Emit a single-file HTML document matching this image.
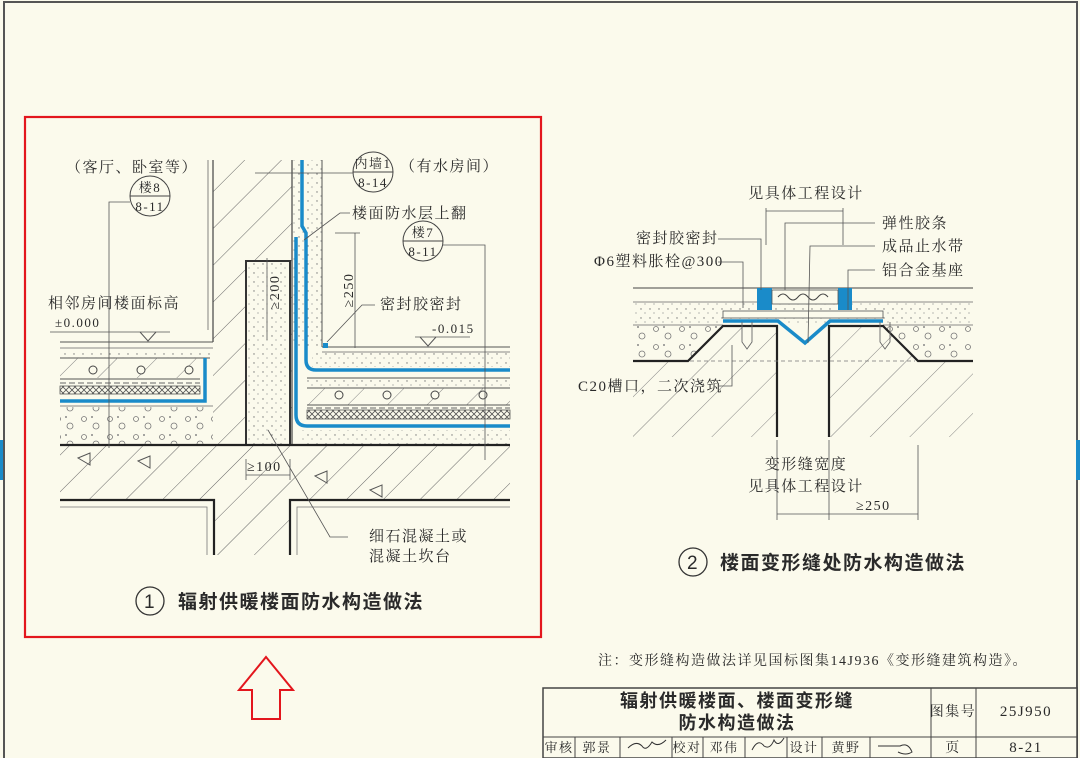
<!DOCTYPE html>
<html><head><meta charset="utf-8"><style>
html,body{margin:0;padding:0;background:#fbfaec;}
svg{display:block}
text{font-family:"Liberation Serif","Noto Serif CJK SC","Noto Sans CJK SC",serif;fill:#2a2a2a;letter-spacing:1.5px;}
.s{font-family:"Liberation Sans","Noto Sans CJK SC",sans-serif;}
</style></head><body>
<svg width="1080" height="758" viewBox="0 0 1080 758" xmlns="http://www.w3.org/2000/svg">
<defs>
<pattern id="h" width="26" height="26" patternUnits="userSpaceOnUse" patternTransform="rotate(45)">
<line x1="0" y1="0" x2="0" y2="26" stroke="#666" stroke-width="1"/></pattern>
<pattern id="hs" width="28" height="28" patternUnits="userSpaceOnUse" patternTransform="rotate(45)">
<line x1="0" y1="0" x2="0" y2="28" stroke="#777" stroke-width="0.9"/></pattern>
<pattern id="dot" width="9" height="9" patternUnits="userSpaceOnUse">
<circle cx="2" cy="3" r="0.7" fill="#777"/><circle cx="6" cy="7" r="0.6" fill="#888"/></pattern>
<pattern id="x" width="6" height="6" patternUnits="userSpaceOnUse">
<path d="M0 0L6 6M6 0L0 6" stroke="#555" stroke-width="0.8"/></pattern>
<pattern id="bub" width="26" height="18" patternUnits="userSpaceOnUse">
<circle cx="6" cy="5" r="2.5" fill="none" stroke="#777" stroke-width="0.8"/><circle cx="18" cy="12" r="3" fill="none" stroke="#777" stroke-width="0.8"/><circle cx="14" cy="3" r="1" fill="#888"/></pattern>
</defs>
<rect width="1080" height="758" fill="#fbfaec"/>
<polyline points="4,758 4,2 1077,2 1077,758" fill="none" stroke="#555" stroke-width="2"/>
<rect x="0" y="440" width="3" height="40" fill="#1a8bc9"/>
<rect x="1076" y="440" width="4" height="40" fill="#1a8bc9"/>

<!-- ============ LEFT DRAWING ============ -->
<rect x="213" y="160" width="79" height="285" fill="url(#h)"/>
<line x1="213" y1="160" x2="213" y2="342" stroke="#444" stroke-width="1.2"/>
<line x1="208" y1="160" x2="208" y2="330" stroke="#666" stroke-width="0.8"/>
<line x1="292" y1="160" x2="292" y2="445" stroke="#444" stroke-width="1.2"/>
<rect x="293" y="160" width="29" height="187" fill="url(#dot)"/>
<line x1="322" y1="160" x2="322" y2="347" stroke="#555" stroke-width="1"/>
<rect x="246" y="261" width="44" height="184" fill="#fbfaec" stroke="#333" stroke-width="2"/>
<rect x="247" y="262" width="42" height="182" fill="url(#dot)"/>
<rect x="60" y="342" width="153" height="103" fill="#fbfaec"/>
<line x1="60" y1="342" x2="213" y2="342" stroke="#555"/>
<line x1="60" y1="348" x2="213" y2="348" stroke="#666" stroke-width="0.7"/>
<rect x="60" y="350" width="150" height="8" fill="url(#dot)"/>
<line x1="60" y1="358" x2="210" y2="358" stroke="#555"/>
<rect x="60" y="358" width="140" height="20" fill="url(#hs)"/>
<circle cx="93" cy="370" r="4" fill="#fbfaec" stroke="#444"/><circle cx="141" cy="370" r="4" fill="#fbfaec" stroke="#444"/><circle cx="189" cy="370" r="4" fill="#fbfaec" stroke="#444"/>
<line x1="60" y1="379" x2="200" y2="379" stroke="#555"/>
<line x1="60" y1="383" x2="200" y2="383" stroke="#666" stroke-dasharray="6,3"/>
<rect x="60" y="386" width="140" height="8" fill="url(#x)" stroke="#444" stroke-width="0.7"/>
<path d="M60 401 H205 V358" fill="none" stroke="#1a8bc9" stroke-width="3.5"/>
<line x1="60" y1="406" x2="213" y2="406" stroke="#666" stroke-width="0.7"/>
<rect x="60" y="407" width="153" height="37" fill="url(#bub)"/>
<rect x="322" y="347" width="188" height="98" fill="#fbfaec"/>
<line x1="322" y1="347" x2="510" y2="347" stroke="#555"/>
<line x1="322" y1="352" x2="510" y2="352" stroke="#666" stroke-width="0.7"/>
<rect x="312" y="353" width="198" height="14" fill="url(#dot)"/>
<path d="M302 160 V226 L306 233 V360 Q306 370 316 370 H510" fill="none" stroke="#1a8bc9" stroke-width="3.5"/>
<path d="M296 237 V415 Q296 426 307 426 H510" fill="none" stroke="#1a8bc9" stroke-width="3.5"/>
<line x1="307" y1="378" x2="510" y2="378" stroke="#555"/>
<rect x="307" y="380" width="203" height="7" fill="url(#dot)"/>
<line x1="307" y1="388" x2="510" y2="388" stroke="#555"/>
<rect x="307" y="388" width="203" height="17" fill="url(#hs)"/>
<circle cx="339" cy="395" r="4" fill="#fbfaec" stroke="#444"/><circle cx="387" cy="395" r="4" fill="#fbfaec" stroke="#444"/><circle cx="435" cy="395" r="4" fill="#fbfaec" stroke="#444"/><circle cx="483" cy="395" r="4" fill="#fbfaec" stroke="#444"/>
<line x1="307" y1="405" x2="510" y2="405" stroke="#555"/>
<line x1="307" y1="408" x2="510" y2="408" stroke="#666" stroke-dasharray="6,3"/>
<rect x="307" y="410" width="203" height="9" fill="url(#x)" stroke="#444" stroke-width="0.7"/>
<rect x="300" y="430" width="210" height="14" fill="url(#dot)"/>
<rect x="323" y="343" width="5" height="5" fill="#1a8bc9"/>
<rect x="60" y="445" width="450" height="55" fill="url(#h)"/>
<rect x="214" y="500" width="76" height="55" fill="url(#h)"/>
<line x1="60" y1="445" x2="510" y2="445" stroke="#222" stroke-width="2.2"/>
<path d="M60 500 H214 V555 M290 555 V500 H510" fill="none" stroke="#222" stroke-width="2.2"/>
<path d="M60 507 H207 V555 M297 555 V507 H510" fill="none" stroke="#777" stroke-width="0.8"/>
<path d="M78 458 l12 -5 v12z M138 461 l12 -5 v12z M315 476 l12 -5 v12z M370 490 l12 -5 v12z" fill="none" stroke="#555"/>
<text x="66" y="172" font-size="15" letter-spacing="3">（客厅、卧室等）</text>
<circle cx="150" cy="196" r="20" fill="#fbfaec" stroke="#444"/>
<line x1="130" y1="196" x2="170" y2="196" stroke="#444"/>
<text x="150" y="192" font-size="13" text-anchor="middle" letter-spacing="0">楼8</text>
<text x="150" y="211" font-size="13" text-anchor="middle" letter-spacing="0">8-11</text>
<path d="M130 202 H109 V448" fill="none" stroke="#555" stroke-width="0.8"/>
<text x="48" y="308" font-size="15" letter-spacing="2">相邻房间楼面标高</text>
<text x="55" y="327" font-size="13">±0.000</text>
<line x1="50" y1="332" x2="170" y2="332" stroke="#555" stroke-width="0.8"/>
<path d="M140 332 l8 9 l8 -9" fill="none" stroke="#555"/>
<circle cx="373" cy="172" r="20" fill="#fbfaec" stroke="#444"/>
<line x1="353" y1="172" x2="393" y2="172" stroke="#444"/>
<text x="373" y="168" font-size="13" text-anchor="middle" letter-spacing="0">内墙1</text>
<text x="373" y="187" font-size="13" text-anchor="middle" letter-spacing="0">8-14</text>
<line x1="255" y1="173" x2="353" y2="173" stroke="#555" stroke-width="0.8"/>
<text x="400" y="171" font-size="15" letter-spacing="3">（有水房间）</text>
<text x="352" y="218" font-size="15" letter-spacing="2">楼面防水层上翻</text>
<path d="M350 213 H340 L304 240" fill="none" stroke="#555" stroke-width="0.8"/>
<line x1="335" y1="233" x2="360" y2="233" stroke="#555" stroke-width="0.8"/>
<line x1="355" y1="233" x2="355" y2="348" stroke="#555" stroke-width="0.8"/>
<text transform="translate(353,290) rotate(-90)" font-size="14" text-anchor="middle">≥250</text>
<circle cx="423" cy="241" r="20" fill="#fbfaec" stroke="#444"/>
<line x1="403" y1="241" x2="443" y2="241" stroke="#444"/>
<text x="423" y="237" font-size="13" text-anchor="middle" letter-spacing="0">楼7</text>
<text x="423" y="256" font-size="13" text-anchor="middle" letter-spacing="0">8-11</text>
<path d="M443 245 H485 V460" fill="none" stroke="#555" stroke-width="0.8"/>
<text x="380" y="309" font-size="15" letter-spacing="2">密封胶密封</text>
<path d="M375 305 H362 L327 342" fill="none" stroke="#555" stroke-width="0.8"/>
<text x="432" y="333" font-size="13">-0.015</text>
<line x1="415" y1="337" x2="470" y2="337" stroke="#555" stroke-width="0.8"/>
<path d="M420 337 l8 9 l8 -9" fill="none" stroke="#555"/>
<line x1="267" y1="258" x2="267" y2="340" stroke="#555" stroke-width="0.8"/>
<text transform="translate(279,292) rotate(-90)" font-size="14" text-anchor="middle">≥200</text>
<text x="247" y="471" font-size="14">≥100</text>
<path d="M246 459 V480 M290 459 V480 M246 475 H290" fill="none" stroke="#555" stroke-width="0.8"/>
<path d="M268 430 L330 537 H348" fill="none" stroke="#555" stroke-width="0.8"/>
<text x="369" y="541" font-size="15" letter-spacing="2">细石混凝土或</text>
<text x="369" y="561" font-size="15" letter-spacing="2">混凝土坎台</text>
<circle cx="150" cy="601" r="14" fill="none" stroke="#333" stroke-width="1.3"/>
<text x="150" y="608" font-size="19" text-anchor="middle" class="s" letter-spacing="0">1</text>
<text x="178" y="608" font-size="19" class="s" font-weight="bold" letter-spacing="1">辐射供暖楼面防水构造做法</text>
<rect x="25" y="117" width="516" height="520" fill="none" stroke="#e3161d" stroke-width="2.2"/>
<path d="M266 657 L293 690 H280 V719 H252 V690 H239 Z" fill="none" stroke="#e3161d" stroke-width="2"/>

<!-- ============ RIGHT DRAWING ============ -->
<line x1="633" y1="288" x2="973" y2="288" stroke="#444"/>
<line x1="633" y1="302" x2="973" y2="302" stroke="#666" stroke-width="0.8"/>
<rect x="633" y="303" width="340" height="22" fill="url(#dot)"/>
<line x1="633" y1="325" x2="723" y2="325" stroke="#666" stroke-width="0.8"/>
<line x1="883" y1="325" x2="973" y2="325" stroke="#666" stroke-width="0.8"/>
<rect x="633" y="326" width="340" height="35" fill="url(#bub)"/>
<path d="M688 361 L723 326 H777 V361 Z" fill="#fbfaec"/>
<path d="M918 361 L883 326 H829 V361 Z" fill="#fbfaec"/>
<rect x="778" y="326" width="50" height="112" fill="#fbfaec"/>
<path d="M688 361 L723 325 H777 V437 H633 V361 Z" fill="url(#hs)"/>
<path d="M918 361 L883 325 H829 V437 H973 V361Z" fill="url(#hs)"/>
<path d="M633 361 H688 L723 326 H777 V437 M829 437 V326 H883 L918 361 H973" fill="none" stroke="#222" stroke-width="2.2"/>
<line x1="690" y1="361" x2="915" y2="361" stroke="#777" stroke-dasharray="4,3" stroke-width="0.8"/>
<path d="M723 321 H778 L805 343 L830 321 H883" fill="none" stroke="#1a8bc9" stroke-width="3.5"/>
<rect x="723" y="311" width="160" height="7" fill="#fbfaec" stroke="#555" stroke-width="0.8"/>
<rect x="757" y="288" width="15" height="22" fill="#1a8bc9"/>
<rect x="838" y="288" width="14" height="22" fill="#1a8bc9"/>
<rect x="772" y="290" width="66" height="14" fill="#fbfaec" stroke="#555" stroke-width="0.8"/>
<path d="M778 297 q5 -6 10 0 q5 6 10 0 q5 -6 10 0 q5 6 10 0 q5 -6 10 0" fill="none" stroke="#444"/>
<path d="M742 322 v20 l5 7 l5 -7 v-20 M880 322 v20 l5 7 l5 -7 v-20" fill="none" stroke="#666" stroke-width="0.9"/>
<text x="806" y="198" font-size="15" text-anchor="middle" letter-spacing="2">见具体工程设计</text>
<path d="M766 208 V245 M843 208 V245 M766 211 H843" fill="none" stroke="#555" stroke-width="0.8"/>
<text x="636" y="243" font-size="15" letter-spacing="2">密封胶密封</text>
<path d="M718 239 H761 V290" fill="none" stroke="#555" stroke-width="0.8"/>
<text x="594" y="266" font-size="15" letter-spacing="1">Φ6塑料胀栓@300</text>
<path d="M718 262 H743 V308" fill="none" stroke="#555" stroke-width="0.8"/>
<text x="882" y="228" font-size="15" letter-spacing="2">弹性胶条</text>
<path d="M875 223 H785 V290" fill="none" stroke="#555" stroke-width="0.8"/>
<text x="882" y="251" font-size="15" letter-spacing="2">成品止水带</text>
<path d="M875 246 H810 L808 343" fill="none" stroke="#555" stroke-width="0.8"/>
<text x="882" y="275" font-size="15" letter-spacing="2">铝合金基座</text>
<path d="M875 270 H848 V310" fill="none" stroke="#555" stroke-width="0.8"/>
<text x="578" y="391" font-size="15" letter-spacing="1.5">C20槽口，二次浇筑</text>
<path d="M718 386 H732 V345" fill="none" stroke="#555" stroke-width="0.8"/>
<text x="806" y="469" font-size="15" text-anchor="middle" letter-spacing="2">变形缝宽度</text>
<text x="806" y="491" font-size="15" text-anchor="middle" letter-spacing="2">见具体工程设计</text>
<path d="M777 440 V520 M829 440 V520 M918 445 V520 M777 514 H918" fill="none" stroke="#555" stroke-width="0.8"/>
<text x="856" y="510" font-size="14">≥250</text>
<circle cx="693" cy="562" r="14" fill="none" stroke="#333" stroke-width="1.3"/>
<text x="693" y="569" font-size="19" text-anchor="middle" class="s" letter-spacing="0">2</text>
<text x="720" y="569" font-size="19" class="s" font-weight="bold" letter-spacing="1">楼面变形缝处防水构造做法</text>
<text x="598" y="665" font-size="14" letter-spacing="2.6">注：变形缝构造做法详见国标图集14J936《变形缝建筑构造》。</text>

<rect x="543" y="688" width="534" height="70" fill="#fbfaec" stroke="#444" stroke-width="1.5"/>
<line x1="543" y1="737" x2="1077" y2="737" stroke="#444"/>
<line x1="931" y1="688" x2="931" y2="758" stroke="#444"/>
<line x1="976" y1="688" x2="976" y2="758" stroke="#444"/>
<path d="M575 737V758M620 737V758M672 737V758M703 737V758M745 737V758M787 737V758M822 737V758M870 737V758" stroke="#444"/>
<text x="737" y="707" font-size="18" class="s" font-weight="bold" text-anchor="middle" letter-spacing="1.5">辐射供暖楼面、楼面变形缝</text>
<text x="737" y="729" font-size="18" class="s" font-weight="bold" text-anchor="middle" letter-spacing="1.5">防水构造做法</text>
<text x="953" y="716" font-size="14" text-anchor="middle" letter-spacing="0">图集号</text>
<text x="1026" y="716" font-size="15" text-anchor="middle">25J950</text>
<text x="953" y="752" font-size="14" text-anchor="middle">页</text>
<text x="1026" y="752" font-size="15" text-anchor="middle">8-21</text>
<text x="559" y="752" font-size="13" text-anchor="middle" letter-spacing="0">审核</text>
<text x="597" y="752" font-size="13" text-anchor="middle">郭景</text>
<text x="687" y="752" font-size="13" text-anchor="middle" letter-spacing="0">校对</text>
<text x="724" y="752" font-size="13" text-anchor="middle">邓伟</text>
<text x="804" y="752" font-size="13" text-anchor="middle" letter-spacing="0">设计</text>
<text x="846" y="752" font-size="13" text-anchor="middle">黄野</text>
<path d="M628 748 q8 -8 14 -2 q4 6 10 -4 q6 6 14 -2" fill="none" stroke="#333"/>
<path d="M752 750 q6 -12 12 -4 q6 4 10 -6 q4 8 10 -2" fill="none" stroke="#333"/>
<path d="M878 746 h22 q8 -4 12 6 q-6 4 -14 0" fill="none" stroke="#333"/>
</svg>
</body></html>
